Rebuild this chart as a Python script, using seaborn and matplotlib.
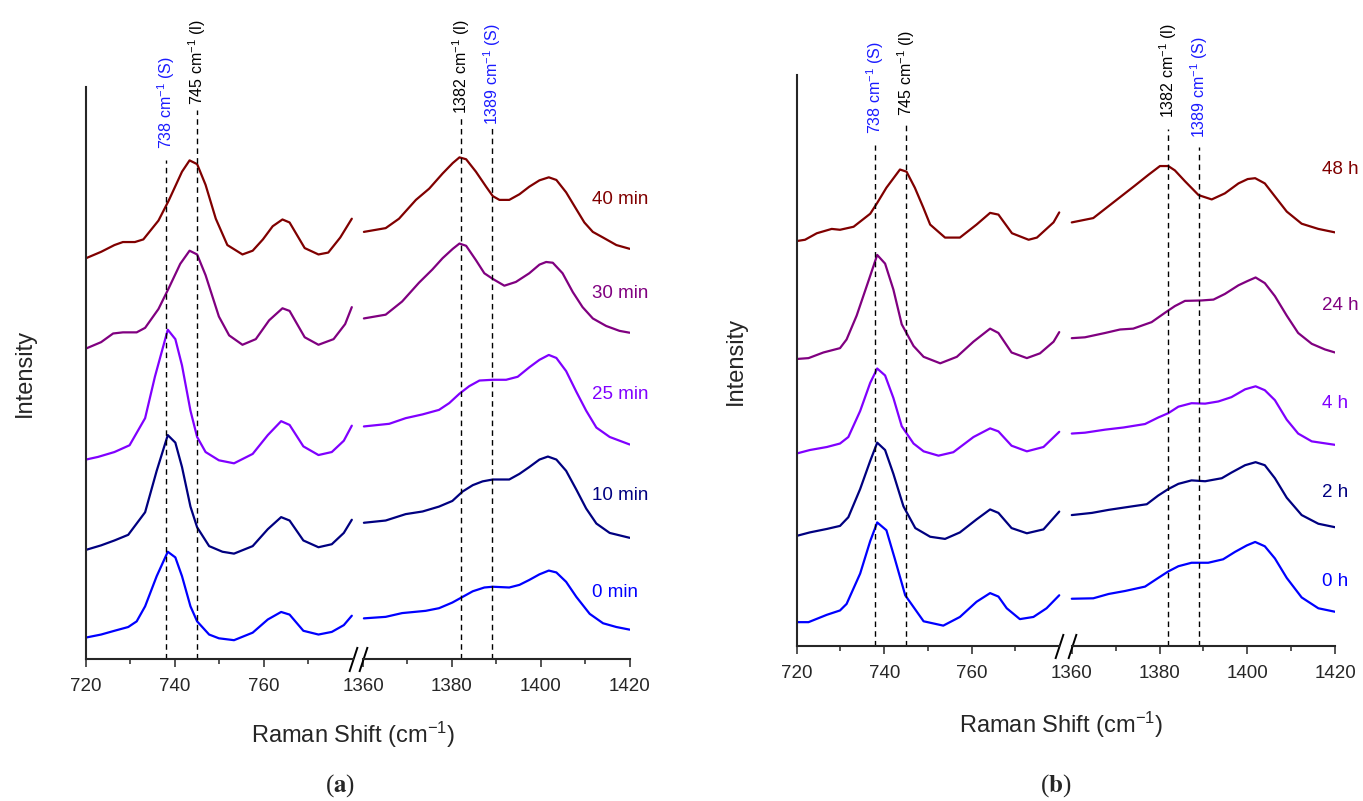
import numpy as np
import pandas as pd
import seaborn as sns
import matplotlib.pyplot as plt

sns.set_style('ticks')
plt.rcParams['font.family'] = ['Liberation Sans', 'DejaVu Sans']
plt.rcParams['mathtext.fontset'] = 'custom'
plt.rcParams['mathtext.rm'] = 'Liberation Sans'
plt.rcParams['mathtext.it'] = 'Liberation Sans:italic'
plt.rcParams['mathtext.bf'] = 'Liberation Sans:bold'

W, H = 1363, 801

# ---- data (intensity in arbitrary units) ----
colors = ['#0000ff', '#000080', '#8000ff', '#800080', '#800000']
names_a = ['0 min', '10 min', '25 min', '30 min', '40 min']
names_b = ['0 h', '2 h', '4 h', '24 h', '48 h']

# panel (a), 720-780 window
a0_lo_x = [720, 723.4, 726.4, 729.5, 731.4, 733.3, 735.9, 738.4, 740.1, 741.6, 743.5, 745, 747.7, 749.9, 753.3, 757.5, 760.9, 763.9, 765.8, 768.9, 772.3, 775.3, 778, 779.8]
a0_lo_y = [57, 65, 75, 85, 100, 140, 220, 285, 270, 220, 140, 100, 65, 55, 50, 70, 105, 125, 118, 75, 65, 72, 90, 115]
a10_lo_x = [720, 723.4, 726.4, 729.5, 733.3, 735.9, 738.4, 740.1, 741.6, 743.5, 745, 747.7, 750.7, 753.3, 757.5, 760.9, 763.9, 765.8, 768.9, 772.3, 775.3, 778, 779.8]
a10_lo_y = [290, 302, 315, 330, 390, 500, 595, 575, 510, 405, 350, 300, 285, 280, 300, 345, 377, 368, 315, 297, 305, 335, 370]
a25_lo_x = [720, 722.7, 726.4, 729.8, 733.3, 735.5, 738.4, 740.1, 741.6, 743.5, 745, 746.9, 749.9, 753.3, 757.5, 760.9, 763.9, 765.8, 768.9, 772.3, 775.3, 778, 779.8]
a25_lo_y = [530, 537, 550, 568, 640, 750, 875, 850, 780, 660, 590, 550, 528, 520, 545, 595, 632, 622, 565, 542, 550, 580, 620]
a30_lo_x = [720, 723.4, 726.1, 728.3, 731.4, 733.3, 736.3, 738.6, 741.2, 743.3, 745, 746.9, 749.9, 752.2, 755.2, 758.2, 761.2, 764.2, 765.8, 769.2, 772.3, 775.7, 778.3, 779.8]
a30_lo_y = [825, 842, 865, 868, 868, 880, 930, 985, 1050, 1085, 1075, 1020, 910, 860, 835, 850, 900, 932, 925, 855, 835, 850, 890, 935]
a40_lo_x = [720, 723.4, 726.4, 728.3, 731, 732.9, 736.3, 738.6, 741.6, 743.3, 745, 746.9, 749.2, 751.8, 755.2, 757.5, 759.8, 762, 764.2, 765.8, 769.2, 772.3, 774.5, 777.2, 779.8]
a40_lo_y = [1065, 1082, 1100, 1108, 1108, 1115, 1165, 1218, 1295, 1325, 1315, 1260, 1170, 1100, 1075, 1085, 1115, 1150, 1168, 1160, 1092, 1075, 1080, 1120, 1170]

# panel (a), 1360-1420 window
a0_hi_x = [1360.2, 1365.1, 1368.8, 1374.1, 1377.1, 1380.1, 1382.4, 1384.7, 1387.3, 1389.2, 1392.9, 1395.2, 1397.4, 1399.7, 1401.8, 1403.5, 1405.7, 1408, 1411, 1414, 1417, 1420]
a0_hi_y = [108, 112, 122, 128, 135, 150, 165, 180, 190, 192, 190, 197, 210, 225, 235, 230, 205, 165, 120, 95, 85, 78]
a10_hi_x = [1360.2, 1365.1, 1369.6, 1373.4, 1377.1, 1380.1, 1382.4, 1384.7, 1386.9, 1389.2, 1392.9, 1395.2, 1397.4, 1399.7, 1401.6, 1403.5, 1405.7, 1408, 1410.2, 1412.5, 1415.5, 1420]
a10_hi_y = [362, 368, 385, 392, 405, 420, 445, 462, 472, 477, 477, 492, 510, 530, 538, 530, 500, 450, 400, 360, 335, 322]
a25_hi_x = [1360.2, 1365.9, 1369.6, 1373.4, 1377.1, 1379.4, 1381.7, 1383.9, 1386.2, 1389.2, 1392.2, 1394.8, 1397.4, 1399.7, 1401.8, 1403.5, 1405.7, 1408, 1410.2, 1412.5, 1415.5, 1420]
a25_hi_y = [618, 625, 640, 650, 662, 680, 705, 725, 740, 742, 742, 750, 775, 795, 808, 800, 765, 710, 660, 615, 590, 570]
a30_hi_x = [1360.2, 1365.1, 1368.8, 1372.6, 1375.6, 1377.9, 1380.2, 1381.7, 1383.2, 1385.4, 1387.3, 1389.2, 1391.8, 1394.4, 1397.4, 1399.7, 1401.2, 1402.7, 1404.9, 1407.2, 1409.4, 1411.7, 1414.7, 1417.7, 1420]
a30_hi_y = [905, 915, 950, 1000, 1035, 1065, 1090, 1104, 1098, 1060, 1025, 1010, 992, 1002, 1025, 1048, 1055, 1053, 1025, 975, 935, 905, 885, 872, 867]
a40_hi_x = [1360.2, 1365.1, 1368.1, 1371.9, 1374.9, 1377.9, 1380.2, 1381.7, 1383.2, 1385.4, 1387.7, 1389.2, 1390.7, 1392.9, 1395.2, 1397.4, 1399.7, 1401.8, 1403.5, 1405.7, 1408, 1409.8, 1411.7, 1414, 1417, 1420]
a40_hi_y = [1135, 1145, 1170, 1220, 1250, 1290, 1318, 1333, 1328, 1295, 1255, 1230, 1220, 1220, 1235, 1255, 1272, 1280, 1273, 1240, 1195, 1160, 1135, 1120, 1100, 1090]

# panel (b), 720-780 window
b0_lo_x = [720, 722.7, 726.9, 729.9, 731.4, 734.5, 736.8, 738.4, 740.5, 742.4, 744.8, 749, 753.5, 757.3, 761.1, 764.2, 766.1, 768, 771, 774.1, 777.1, 780]
b0_lo_y = [55, 55, 72, 82, 97, 167, 242, 285, 267, 202, 117, 57, 47, 67, 102, 122, 114, 87, 62, 67, 87, 117]
b2_lo_x = [720, 723, 726.9, 729.9, 731.8, 734.5, 736.8, 738.4, 740.2, 742.1, 744.4, 747.1, 750.5, 753.9, 757.3, 761.1, 764.2, 766.1, 769.1, 772.6, 776.4, 780]
b2_lo_y = [254, 262, 270, 277, 297, 362, 427, 469, 452, 397, 322, 272, 252, 247, 262, 292, 315, 307, 272, 260, 269, 310]
b4_lo_x = [720, 723, 726.9, 729.9, 731.8, 734.5, 736.8, 738.4, 740.2, 742.1, 744, 746.7, 749, 752.4, 755.8, 760.4, 764.2, 766.1, 769.1, 772.6, 776.4, 780]
b4_lo_y = [444, 452, 459, 467, 482, 542, 607, 640, 624, 572, 507, 467, 449, 439, 447, 482, 502, 495, 462, 449, 459, 494]
b24_lo_x = [720, 722.7, 726.1, 729.9, 731.4, 733.7, 736.4, 738.4, 740.2, 742.1, 744, 746.7, 749, 752.8, 756.6, 760.4, 764.2, 766.1, 769.1, 772.6, 775.6, 778.7, 780]
b24_lo_y = [662, 664, 677, 687, 707, 762, 842, 902, 882, 822, 742, 692, 667, 652, 667, 702, 732, 722, 677, 664, 675, 702, 724]
b48_lo_x = [720, 721.9, 724.6, 728, 729.9, 733, 736.8, 738.4, 740.5, 743.6, 745.1, 747, 748.9, 750.5, 753.9, 757.3, 761.1, 764.2, 766.1, 769.2, 773, 774.9, 778.7, 780]
b48_lo_y = [934, 937, 952, 962, 960, 967, 997, 1022, 1057, 1099, 1094, 1057, 1012, 972, 942, 942, 972, 999, 995, 952, 937, 942, 977, 1000]

# panel (b), 1360-1420 window
b0_hi_x = [1360, 1364.9, 1368.4, 1372.2, 1376.7, 1379.7, 1382, 1384.3, 1387.3, 1391.1, 1394.5, 1397.2, 1399.9, 1401.8, 1404, 1406.3, 1409, 1412.4, 1416.2, 1420]
b0_hi_y = [109, 110, 120, 127, 137, 157, 172, 184, 192, 192, 200, 217, 232, 240, 230, 202, 157, 112, 87, 79]
b2_hi_x = [1360, 1364.6, 1368.4, 1373.7, 1377.1, 1379.7, 1382, 1384.3, 1387.3, 1390.4, 1394.2, 1396.4, 1399.5, 1401.9, 1404, 1406.3, 1409, 1412.4, 1416.2, 1420]
b2_hi_y = [302, 307, 314, 322, 327, 347, 362, 374, 382, 380, 387, 400, 417, 424, 417, 387, 342, 302, 282, 274]
b4_hi_x = [1360, 1363, 1367.6, 1371.8, 1376.7, 1379.7, 1382, 1384.3, 1387.3, 1390.4, 1393.4, 1396.4, 1399.5, 1401.9, 1404, 1406.3, 1409, 1411.6, 1414.7, 1420]
b4_hi_y = [490, 492, 499, 504, 512, 527, 537, 552, 560, 559, 564, 574, 592, 599, 590, 567, 522, 490, 472, 464]
b24_hi_x = [1360, 1363, 1367.6, 1371, 1374, 1378.2, 1381.3, 1383.5, 1385.8, 1389.6, 1392.3, 1394.9, 1398, 1400.1, 1401.9, 1404, 1406.3, 1409, 1411.6, 1414.7, 1417.7, 1420]
b24_hi_y = [710, 712, 722, 730, 732, 747, 769, 784, 796, 797, 799, 812, 832, 842, 850, 837, 807, 762, 722, 697, 684, 677]
b48_hi_x = [1360, 1364.9, 1366.8, 1370.6, 1374.4, 1377.5, 1380.1, 1382, 1383.5, 1385.8, 1388.9, 1391.9, 1394.9, 1398, 1400.1, 1401.8, 1404, 1406.3, 1409, 1412.4, 1416.2, 1420]
b48_hi_y = [977, 987, 1002, 1032, 1062, 1087, 1107, 1107, 1097, 1072, 1040, 1030, 1044, 1067, 1077, 1079, 1067, 1037, 1002, 974, 962, 954]

# marked band positions
peaks = [738, 745, 1382, 1389]
peak_labels = ['738 cm$^{-1}$ (S)', '745 cm$^{-1}$ (l)', '1382 cm$^{-1}$ (l)', '1389 cm$^{-1}$ (S)']
peak_colors = ['#1a1aff', 'black', 'black', '#1a1aff']
peak_top_a = [1327, 1460, 1439, 1410]
peak_txt_a = [1354, 1471, 1447, 1418]
peak_top_b = [1155, 1206, 1192, 1151]
peak_txt_b = [1181, 1222, 1218, 1171]
label_y_a = [176, 434, 702, 971, 1221]
label_y_b = [148, 355, 560, 786, 1098]

fig = plt.figure(figsize=(W / 100, H / 100), dpi=100)


def add_ax(l, r, t, b):
    return fig.add_axes([l / W, 1 - b / H, (r - l) / W, (b - t) / H])


def draw(ax, xs, ys, names):
    df = pd.concat([pd.DataFrame({'shift': x, 'intensity': y, 'sample': n})
                    for x, y, n in zip(xs, ys, names)])
    sns.lineplot(data=df, x='shift', y='intensity', hue='sample',
                 palette=dict(zip(names, colors)), estimator=None, sort=False,
                 legend=False, lw=1.6, ax=ax)
    ax.set_xlabel('')
    ax.set_ylabel('')


def panel(box, xl, lo, hi, names, top, txt, lab_y, lab_x, ymax, xlab_pos, tag, tag_pos):
    l, mid, r, t, b = box
    ax1 = add_ax(l, mid, t, b)
    ax2 = add_ax(mid, r, t, b)
    draw(ax1, lo[0], lo[1], names)
    draw(ax2, hi[0], hi[1], names)
    ax1.set_xlim(720, xl[0])
    ax2.set_xlim(xl[1], 1420)
    for ax in (ax1, ax2):
        ax.set_ylim(0, ymax)
        ax.set_yticks([])
        ax.patch.set_alpha(0)
        ax.spines['top'].set_visible(False)
        ax.spines['right'].set_visible(False)
        ax.spines['bottom'].set_linewidth(1.5)
        ax.tick_params(axis='x', which='major', length=6, width=1.1, labelsize=13.5, pad=8)
        ax.tick_params(axis='x', which='minor', length=3.5, width=1.1)
    ax1.spines['left'].set_linewidth(1.5)
    ax2.spines['left'].set_visible(False)
    ax1.set_xticks([720, 740, 760])
    ax1.set_xticks([730, 750, 770], minor=True)
    ax2.set_xticks([1360, 1380, 1400, 1420])
    ax2.set_xticks([1370, 1390, 1410], minor=True)
    ax1.spines['bottom'].set_bounds(720, 780)
    ax2.spines['bottom'].set_bounds(1360, 1420)
    slash = [(-0.33, -1), (0.33, 1)]
    ax1.plot([780], [0], ls='none', marker=slash, ms=18, mec='black', mew=1.4, clip_on=False)
    ax2.plot([1360], [0], ls='none', marker=slash, ms=18, mec='black', mew=1.4, clip_on=False)
    ax1.set_ylabel('Intensity', fontsize=17, labelpad=36)

    for i, p in enumerate(peaks):
        ax = ax1 if p < 1000 else ax2
        ax.plot([p, p], [0, top[i]], color='black', lw=1.0, ls=(0, (4, 3)), clip_on=False)
        ax.text(p, txt[i], peak_labels[i], rotation=90, ha='center', va='bottom',
                color=peak_colors[i], fontsize=11.5, clip_on=False)

    for n, c, yy in zip(names, colors, lab_y):
        ax2.text(lab_x, yy, n, color=c, fontsize=13.5, ha='left', va='center', clip_on=False)

    fig.text(xlab_pos[0] / W, 1 - xlab_pos[1] / H, 'Raman Shift (cm$^{-1}$)',
             fontsize=17, ha='center', va='center')
    fig.text(tag_pos[0] / W, 1 - tag_pos[1] / H, '($\\mathbf{' + tag + '}$)',
             fontsize=18, ha='center', va='center', family='Liberation Serif',
             math_fontfamily='stix')


panel((86, 357.85, 629.7, 87, 659), (781.16, 1358.84),
      ([a0_lo_x, a10_lo_x, a25_lo_x, a30_lo_x, a40_lo_x], [a0_lo_y, a10_lo_y, a25_lo_y, a30_lo_y, a40_lo_y]),
      ([a0_hi_x, a10_hi_x, a25_hi_x, a30_hi_x, a40_hi_x], [a0_hi_y, a10_hi_y, a25_hi_y, a30_hi_y, a40_hi_y]),
      names_a, peak_top_a, peak_txt_a, label_y_a, 1411.5, 1520, (353, 735), 'a', (340, 786))

panel((796.7, 1065.5, 1335, 75, 646), (781.43, 1358.57),
      ([b0_lo_x, b2_lo_x, b4_lo_x, b24_lo_x, b48_lo_x], [b0_lo_y, b2_lo_y, b4_lo_y, b24_lo_y, b48_lo_y]),
      ([b0_hi_x, b2_hi_x, b4_hi_x, b24_hi_x, b48_hi_x], [b0_hi_y, b2_hi_y, b4_hi_y, b24_hi_y, b48_hi_y]),
      names_b, peak_top_b, peak_txt_b, label_y_b, 1417, 1317, (1061, 725), 'b', (1056, 786))

fig.savefig('out.png', dpi=100)
